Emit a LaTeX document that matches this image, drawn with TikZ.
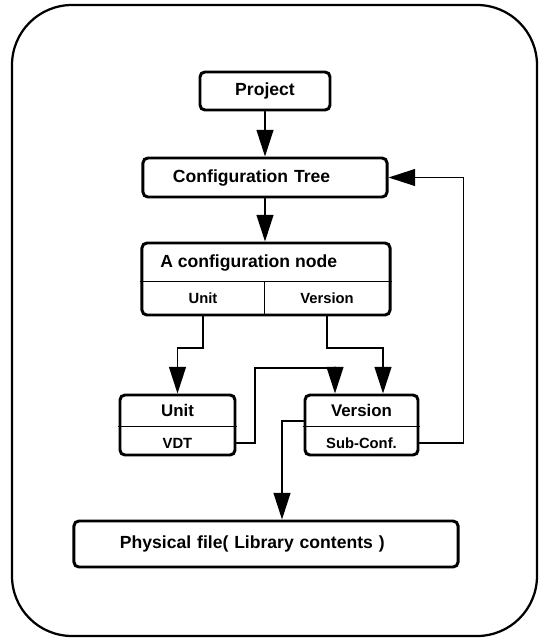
\documentclass[tikz,border=0pt]{standalone}
\usepackage{fontspec}
\setmainfont{Liberation Sans}
\usepackage{tikz}
\usetikzlibrary{arrows.meta,calc}

\tikzset{
  box/.style={draw,line width=2.1pt,rounded corners=3.5pt,inner sep=0pt,font=\bfseries\fontsize{12.5}{14}\selectfont},
  cell/.style={inner sep=0pt,font=\bfseries\fontsize{10.5}{12}\selectfont},
  boxtitle/.style={inner sep=0pt,font=\bfseries\fontsize{12}{14}\selectfont},
  conn/.style={line width=1.2pt,-{Triangle[length=19pt,width=12pt]}},
  divider/.style={line width=0.9pt}
}

\begin{document}
\begin{tikzpicture}[x=0.025cm,y=-0.025cm,line cap=round]
  \useasboundingbox (0,0) rectangle (544,638);
  % outer frame
  \draw[line width=1.6pt,rounded corners=1.5cm] (12,5) rectangle (537,636);
  % project and tree
  \node[box,minimum width=3.25cm,minimum height=0.95cm] (proj) at (265,91) {Project};
  \node[box,text width=4.6cm,inner xsep=0.75cm,minimum height=0.975cm,align=left] (ct) at (265,177.5) {Configuration Tree};
  % configuration node with its two cells
  \node[box,minimum width=6.2cm,minimum height=1.8cm] (cfg) at (266,279) {};
  \node[boxtitle,anchor=west,font=\bfseries\fontsize{12.5}{14}\selectfont] (cfgtitle) at (160,262.5) {A configuration node};
  \node[cell,minimum width=3.05cm,minimum height=0.825cm] (cfgunit) at (203,298.5) {Unit};
  \node[cell,minimum width=3.15cm,minimum height=0.825cm] (cfgver) at (327,298.5) {Version};
  \draw[divider] (cfg.west |- cfgunit.north) -- (cfg.east |- cfgunit.north);
  \draw[divider] (cfgunit.north east) -- (cfgunit.south east);
  % unit and version boxes
  \node[box,minimum width=2.875cm,minimum height=1.5cm] (unit) at (177.5,425) {};
  \node[box,minimum width=2.825cm,minimum height=1.5cm] (ver) at (361.5,425) {};
  \foreach \b/\ttl/\sb in {unit/Unit/VDT,ver/Version/Sub-Conf.}{
    \node[boxtitle,minimum height=0.825cm] (\b-top) at ($(\b.north)+(0,16.5)$) {\ttl};
    \node[cell] (\b-sub) at ($(\b.south)+(0,-13.5)$) {\sb};
    \draw[divider] (\b-top.south -| \b.west) -- (\b-top.south -| \b.east);
  }
  % physical file
  \node[box,text width=7.3cm,inner xsep=1.15cm,minimum height=1.15cm,align=left] (phys) at (266,544) {Physical file( Library contents )};
  % connectors
  \draw[conn] (proj) -- (ct);
  \draw[conn] (ct.south) -- (ct.south |- cfg.north);
  \draw[conn] (cfgunit.south) -- ++(0,33) -| (unit.north);
  \draw[conn] (cfgver.south) -- ++(0,33) -| ($(ver.north)+(21.5,0)$);
  \coordinate (vdtbend) at (255,368);
  \draw[conn] (unit.east |- unit-sub) -| (vdtbend) -| ($(ver.north)+(-26.5,0)$);
  \draw[conn] (ver.east |- ver-sub) -| ($(ct.east)+(75,0)$) -- (ct.east);
  \draw[conn] ($(ver.west)+(0,-4)$) -| ($(phys.north)+(16,0)$);
\end{tikzpicture}
\end{document}
